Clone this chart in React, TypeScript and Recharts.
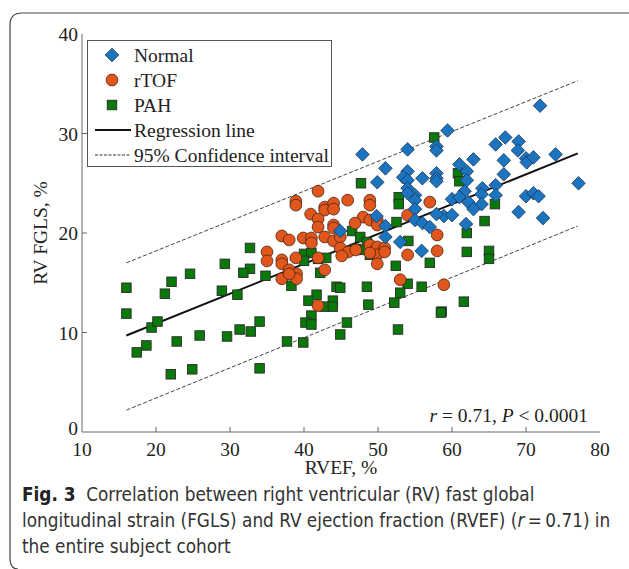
import { ScatterChart, Scatter, XAxis, YAxis, ReferenceLine } from "recharts";

type Pt = { x: number; y: number };

const xTicks = [10, 20, 30, 40, 50, 60, 70, 80];
const yTicks = [0, 10, 20, 30, 40];

// RVEF %, RV FGLS %
const normalRaw: [number, number][] = [
  [71.9, 32.8], [77.1, 25.0], [59.4, 30.3], [65.9, 28.9], [67.2, 29.6], [69.0, 29.2],
  [68.9, 28.3], [62.9, 27.4], [67.0, 27.3], [70.0, 27.5], [70.1, 27.1], [71.0, 27.6],
  [74.0, 27.9], [61.0, 26.9], [62.0, 26.2], [67.0, 25.9], [62.0, 25.3], [64.1, 24.5],
  [61.7, 24.2], [65.9, 24.8], [64.0, 23.9], [60.0, 23.4], [61.0, 23.6], [62.2, 23.1],
  [65.9, 23.8], [70.0, 23.7], [71.0, 24.0], [71.7, 23.7], [64.0, 22.9], [62.9, 22.4],
  [58.9, 21.7], [60.0, 21.8], [61.9, 20.9], [69.0, 22.1], [72.3, 21.5], [47.9, 27.9],
  [54.0, 28.4], [57.9, 28.7], [57.9, 28.3], [51.0, 26.5], [54.0, 26.2], [53.4, 25.6],
  [54.0, 25.3], [56.0, 25.5], [57.9, 26.0], [57.9, 25.5], [57.9, 25.2], [49.9, 25.1],
  [54.0, 24.5], [55.0, 23.8], [55.0, 23.3], [55.0, 22.4], [54.0, 24.0], [57.9, 21.9],
  [55.0, 21.3], [56.0, 21.0], [57.0, 20.6], [44.9, 20.2], [51.0, 20.7], [51.0, 19.6],
  [53.0, 19.1], [55.9, 18.2], [49.8, 21.7],
];

const rtofRaw: [number, number][] = [
  [41.9, 24.2], [45.9, 23.3], [38.9, 23.2], [38.9, 22.8], [42.8, 22.6], [42.8, 22.3],
  [44.0, 23.0], [44.0, 22.4], [48.9, 23.3], [48.9, 22.8], [57.0, 23.1], [40.9, 21.9],
  [41.9, 21.4], [41.9, 20.6], [44.0, 20.8], [44.0, 20.5], [48.0, 21.6], [48.9, 21.3],
  [49.9, 21.3], [49.9, 20.8], [46.9, 21.0], [54.0, 21.8], [37.0, 19.7], [38.0, 19.3],
  [39.9, 19.5], [41.0, 19.5], [41.0, 19.0], [42.8, 19.6], [44.0, 19.2], [44.9, 19.6],
  [44.9, 18.5], [46.0, 18.1], [47.0, 18.3], [48.9, 18.8], [49.9, 18.6], [49.9, 17.8],
  [50.9, 18.5], [50.9, 18.1], [48.9, 18.0], [49.9, 16.9], [54.0, 17.8], [58.0, 18.2],
  [37.0, 17.3], [37.0, 16.9], [38.9, 17.5], [41.9, 17.5], [45.1, 17.7], [42.8, 16.3],
  [38.0, 16.3], [39.0, 15.9], [39.0, 15.4], [37.0, 15.4], [38.0, 15.9], [53.0, 15.3],
  [58.9, 14.8], [41.9, 12.7], [35.0, 18.1], [35.0, 17.2], [58.0, 19.8],
];

const pahRaw: [number, number][] = [
  [57.6, 29.6], [47.7, 25.0], [52.8, 23.6], [52.8, 22.9], [65.8, 22.9], [64.4, 21.2],
  [62.0, 20.0], [62.0, 18.1], [65.0, 18.2], [65.0, 17.4], [61.6, 13.1], [58.6, 12.1],
  [60.8, 26.0], [61.0, 25.2], [52.5, 21.1], [46.5, 20.2], [47.6, 19.6], [48.5, 19.1],
  [47.0, 18.4], [48.0, 18.3], [48.9, 17.8], [54.1, 19.2], [57.0, 17.0], [52.4, 16.7],
  [40.0, 17.9], [41.0, 18.0], [40.0, 17.2], [43.0, 17.5], [41.9, 17.4], [42.2, 16.0],
  [38.3, 14.7], [44.4, 14.6], [44.9, 14.5], [48.5, 14.6], [54.0, 14.9], [55.9, 14.6],
  [53.0, 14.0], [41.7, 13.8], [40.6, 13.2], [43.9, 13.2], [48.7, 12.8], [52.2, 13.0],
  [42.8, 12.6], [43.9, 12.6], [32.7, 18.5], [32.7, 16.4], [31.8, 16.0], [29.3, 16.9],
  [34.8, 15.7], [24.6, 15.9], [22.1, 15.1], [16.0, 14.5], [21.2, 13.9], [28.9, 14.2],
  [31.0, 13.8], [16.0, 11.9], [19.4, 10.5], [20.2, 11.1], [17.4, 8.0], [18.7, 8.7],
  [22.8, 9.1], [25.9, 9.7], [29.6, 9.6], [31.3, 10.3], [32.8, 10.1], [34.0, 11.1],
  [22.0, 5.8], [24.9, 6.3], [34.0, 6.4], [41.0, 11.7], [40.2, 11.0], [41.0, 10.8],
  [45.8, 11.0], [44.9, 9.8], [52.7, 10.3], [58.5, 12.0], [37.7, 9.1], [39.9, 9.0],
];

// line end points (x, y)
const regression: Pt[] = [{ x: 16, y: 9.7 }, { x: 77, y: 28.0 }];
const ciUpper: Pt[] = [{ x: 16, y: 17.0 }, { x: 77, y: 35.3 }];
const ciLower: Pt[] = [{ x: 16, y: 2.2 }, { x: 77, y: 20.7 }];

const toPts = (arr: [number, number][]): Pt[] => arr.map(([x, y]) => ({ x, y }));
const normal = toPts(normalRaw);
const rtof = toPts(rtofRaw);
const pah = toPts(pahRaw);

const BLUE = "#1b74c0";
const ORANGE = "#e0561c";
const GREEN = "#097a09";
const AXIS = "#666";
const SERIF = "'Liberation Serif', 'Times New Roman', serif";
const FS = 19.5;

type ShapeProps = { cx?: number; cy?: number };

function Diamond({ cx, cy }: ShapeProps) {
  if (cx == null || cy == null) return null;
  const r = 6.8;
  return (
    <path
      d={`M${cx},${cy - r} L${cx + r},${cy} L${cx},${cy + r} L${cx - r},${cy} Z`}
      fill={BLUE}
      stroke="#1d3550"
      strokeWidth={0.8}
    />
  );
}

function Dot({ cx, cy }: ShapeProps) {
  if (cx == null || cy == null) return null;
  return <circle cx={cx} cy={cy} r={5.9} fill={ORANGE} stroke="#4a2410" strokeWidth={0.8} />;
}

function Square({ cx, cy }: ShapeProps) {
  if (cx == null || cy == null) return null;
  const s = 9.5;
  return (
    <rect x={cx - s / 2} y={cy - s / 2} width={s} height={s} fill={GREEN} stroke="#2a2a2a" strokeWidth={0.9} />
  );
}

type TickProps = { x?: number; y?: number; payload?: { value: number } };

function BottomTick({ x = 0, y = 0, payload }: TickProps) {
  const v = payload?.value ?? 0;
  return (
    <g>
      {v !== 10 && v !== 80 && <line x1={x} x2={x} y1={y} y2={y - 5} stroke={AXIS} />}
      <text x={x} y={y + 24} textAnchor="middle" fontFamily={SERIF} fontSize={FS} fill="#222">
        {v}
      </text>
    </g>
  );
}

function TopTick({ x = 0, y = 0, payload }: TickProps) {
  const v = payload?.value ?? 0;
  if (v === 10 || v === 80) return null;
  return <line x1={x} x2={x} y1={y} y2={y + 5} stroke={AXIS} />;
}

function LeftTick({ x = 0, y = 0, payload }: TickProps) {
  const v = payload?.value ?? 0;
  return (
    <g>
      {v !== 0 && v !== 40 && <line x1={x} x2={x + 5} y1={y} y2={y} stroke={AXIS} />}
      <text x={x - 4} y={v === 0 ? y + 3 : y + 7} textAnchor="end" fontFamily={SERIF} fontSize={FS} fill="#222">
        {v}
      </text>
    </g>
  );
}

function RightTick({ x = 0, y = 0, payload }: TickProps) {
  const v = payload?.value ?? 0;
  if (v === 0 || v === 40) return null;
  return <line x1={x} x2={x - 5} y1={y} y2={y} stroke={AXIS} />;
}

function LegendBox() {
  const rows = [
    { label: "Normal", kind: "d" },
    { label: "rTOF", kind: "c" },
    { label: "PAH", kind: "s" },
    { label: "Regression line", kind: "l" },
    { label: "95% Confidence interval", kind: "dash" },
  ];
  return (
    <svg width={246} height={127} style={{ position: "absolute", left: 87, top: 40 }}>
      <rect x={0.5} y={0.5} width={244} height={126} fill="#fff" stroke="#555" />
      {rows.map((r, i) => {
        const cy = 15 + i * 25;
        return (
          <g key={r.label}>
            {r.kind === "d" && <Diamond cx={25} cy={cy} />}
            {r.kind === "c" && <Dot cx={25} cy={cy} />}
            {r.kind === "s" && <Square cx={25} cy={cy} />}
            {r.kind === "l" && <line x1={8} x2={44} y1={cy} y2={cy} stroke="#111" strokeWidth={2} />}
            {r.kind === "dash" && (
              <line x1={8} x2={44} y1={cy} y2={cy} stroke="#333" strokeWidth={1} strokeDasharray="3 1.5" />
            )}
            <text x={47} y={cy + 6.5} fontFamily={SERIF} fontSize={FS} fill="#222">
              {r.label}
            </text>
          </g>
        );
      })}
    </svg>
  );
}

export default function App() {
  return (
    <div style={{ position: "absolute", left: 0, top: 0, width: 629, height: 569, background: "#fff" }}>
      <svg width={629} height={569} style={{ position: "absolute", left: 0, top: 0 }}>
        <path d="M629,13 L22,13 Q10,13 10,25 L10,558 Q10,569 18,569" fill="none" stroke="#444" strokeWidth={1.2} />
      </svg>
      <div style={{ position: "absolute", left: 0, top: 0 }}>
        <ScatterChart width={629} height={500} margin={{ top: 34, right: 29, bottom: 38, left: 0 }}>
          <XAxis
            type="number"
            dataKey="x"
            domain={[10, 80]}
            ticks={xTicks}
            height={30}
            tickSize={0}
            tickMargin={0}
            tickLine={false}
            axisLine={{ stroke: AXIS }}
            tick={<BottomTick />}
            interval={0}
            label={{ value: "RVEF, %", position: "insideBottom", offset: -12, fontFamily: SERIF, fontSize: FS, fill: "#222" }}
          />
          <XAxis
            xAxisId="top"
            orientation="top"
            type="number"
            domain={[10, 80]}
            ticks={xTicks}
            height={0}
            tickSize={0}
            tickMargin={0}
            tickLine={false}
            axisLine={{ stroke: AXIS }}
            tick={<TopTick />}
            interval={0}
          />
          <YAxis
            type="number"
            dataKey="y"
            domain={[0, 40]}
            ticks={yTicks}
            width={82}
            tickSize={0}
            tickMargin={0}
            tickLine={false}
            axisLine={{ stroke: AXIS }}
            tick={<LeftTick />}
            interval={0}
            label={{ value: "RV FGLS, %", angle: -90, position: "insideLeft", offset: 40, fontFamily: SERIF, fontSize: FS, fill: "#222", style: { textAnchor: "middle" } }}
          />
          <YAxis
            yAxisId="right"
            orientation="right"
            type="number"
            domain={[0, 40]}
            ticks={yTicks}
            width={0}
            tickSize={0}
            tickMargin={0}
            tickLine={false}
            axisLine={{ stroke: AXIS }}
            tick={<RightTick />}
            interval={0}
          />
          <ReferenceLine segment={ciUpper} stroke="#444" strokeWidth={1} strokeDasharray="4 2" ifOverflow="visible" />
          <ReferenceLine segment={ciLower} stroke="#444" strokeWidth={1} strokeDasharray="4 2" ifOverflow="visible" />
          <Scatter data={pah} shape={<Square />} isAnimationActive={false} />
          <Scatter data={rtof} shape={<Dot />} isAnimationActive={false} />
          <Scatter data={normal} shape={<Diamond />} isAnimationActive={false} />
          <ReferenceLine segment={regression} stroke="#111" strokeWidth={2} ifOverflow="visible" />
        </ScatterChart>
      </div>
      <LegendBox />
      <div
        style={{
          position: "absolute",
          left: 380,
          top: 405,
          width: 208,
          textAlign: "right",
          fontFamily: SERIF,
          fontSize: FS,
          color: "#222",
          whiteSpace: "nowrap",
        }}
      >
        <i>r</i> = 0.71, <i>P</i> &lt; 0.0001
      </div>
      <div
        style={{
          position: "absolute",
          left: 22,
          top: 482,
          width: 605,
          fontFamily: "'Liberation Sans Narrow', 'DejaVu Sans Condensed', sans-serif",
          fontSize: 18.8,
          lineHeight: "26px",
          color: "#333",
          whiteSpace: "nowrap",
        }}
      >
        <b style={{ color: "#222" }}>Fig. 3</b>&nbsp; Correlation between right ventricular (RV) fast global
        <br />
        longitudinal strain (FGLS) and RV ejection fraction (RVEF) (<i>r</i>&thinsp;=&thinsp;0.71) in
        <br />
        the entire subject cohort
      </div>
    </div>
  );
}
